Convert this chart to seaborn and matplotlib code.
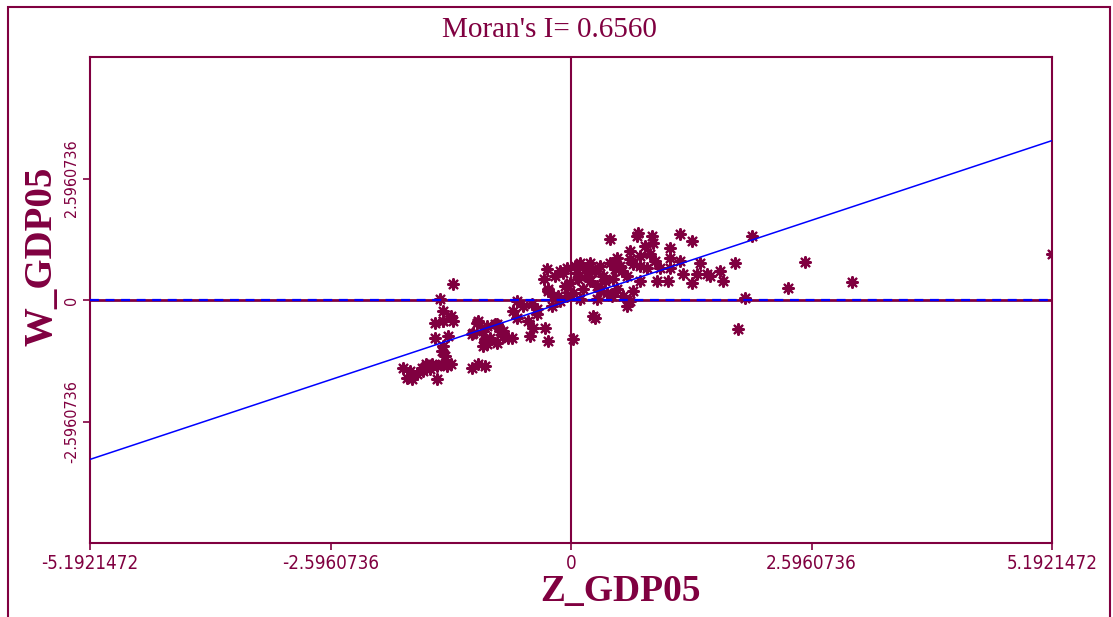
import matplotlib
matplotlib.use("Agg")
import matplotlib.pyplot as plt
from matplotlib import font_manager
from matplotlib.patches import Rectangle
import numpy as np
import pandas as pd
import seaborn as sns

MORANS_I = 0.6560
LIMIT = 5.1921472
TICKS_X = [-5.1921472, -2.5960736, 0, 2.5960736, 5.1921472]
TICK_LABELS_X = ["-5.1921472", "-2.5960736", "0", "2.5960736", "5.1921472"]
TICKS_Y = [-2.5960736, 0, 2.5960736]
TICK_LABELS_Y = ["-2.5960736", "0", "2.5960736"]

# standardised GDP (x) and spatial lag (y)
Z_GDP05 = [
    -1.81, -1.77, -1.72, -1.66, -1.61, -1.56, -1.50, -1.45, -1.39, -1.34, -1.45, -1.74, -1.60, -1.52,
    -1.41, -1.38, -1.47, -1.47, -1.29, -1.27, -1.33, -1.38, -1.39, -1.36, -1.29, -1.27, -1.38,
    -1.07, -1.00, -0.91, -0.93, -0.91, -0.80, -0.80, -0.73, -0.68, -1.07, -1.00, -0.93,
    -0.26, -0.04, -0.25, -0.19, -0.12, -0.42, -0.37, -0.63, -0.58, -0.46, -0.41, -0.28, -0.44, -0.25,
    0.02, -1.02, -0.95, -0.93, -0.82, -0.77, -0.64, -0.73, -0.87, -0.95, -1.06,
    0.42, 0.71, -0.09, 0.10, 0.21, 0.31, 0.42, 0.50, 0.53, 0.64, 0.64, -0.01, 0.02, 0.13, 0.28,
    0.39, 0.50, 0.56, 0.24, -0.25, -0.21, -0.37, -0.14, 0.06, 0.17, 0.35, 0.45, 0.60, 0.10, -0.04,
    0.28, 0.60,
    0.72, 0.87, 0.89, 1.18, 1.31, 1.07, 0.75, 0.85, 1.07, 1.18, 0.96, 0.82, 0.67, 1.07, 1.05, 1.21,
    1.36, 1.31, 1.39, 1.47, 1.61, 1.64, 1.77, 0.67, 0.64, 0.55, 0.93, 0.75,
    1.95, 1.50, 2.53, 2.34, 3.03, 1.88, 1.80, 5.19, 0.26,
    -0.12, -0.17, -0.06, 0.04, 0.15, 0.26, 0.37, 0.48, 0.21, 0.31, 0.08, 0.44, 0.75, 0.91, 0.80,
    -0.29, -0.58, -0.52, -1.38,
]
W_GDP05 = [
    -1.46, -1.67, -1.69, -1.58, -1.46, -1.37, -1.37, -1.41, -1.37, -1.41, -1.69, -1.52, -1.52, -1.48,
    0.02, -0.24, -0.49, -0.81, -0.34, -0.45, -0.77, -0.99, -1.09, -1.20, -1.37, 0.34, -0.45,
    -0.73, -0.45, -0.56, -0.84, -0.94, -0.51, -0.92, -0.66, -0.81, -1.46, -1.37, -1.41,
    0.66, 0.69, 0.19, 0.09, -0.02, -0.09, -0.30, -0.24, -0.39, -0.45, -0.60, -0.60, -0.77, -0.88,
    -0.84, -0.49, -0.66, -0.88, -0.51, -0.66, -0.81, -0.77, -0.81, -0.99, -0.71,
    1.31, 1.37, 0.58, 0.79, 0.79, 0.73, 0.79, 0.90, 0.73, 1.05, 0.88, 0.36, 0.15, 0.24, 0.30,
    0.15, 0.24, 0.09, -0.34, 0.24, -0.13, -0.19, 0.09, 0.58, 0.51, 0.51, 0.45, 0.51, 0.02, 0.09,
    0.02, -0.13,
    1.43, 1.37, 1.22, 1.41, 1.26, 1.11, 0.94, 0.99, 0.90, 0.84, 0.69, 0.69, 0.77, 0.69, 0.41, 0.56,
    0.56, 0.36, 0.79, 0.56, 0.62, 0.41, 0.79, 0.19, -0.02, 0.62, 0.41, 0.41,
    1.37, 0.51, 0.81, 0.26, 0.39, 0.04, -0.62, 0.98, -0.39,
    0.62, 0.51, 0.30, 0.73, 0.66, 0.62, 0.41, 0.66, 0.41, 0.19, 0.45, 0.09, 0.73, 0.84, 1.16,
    0.45, -0.02, -0.13, -0.45,
]

MAROON = "#800040"
BLUE = "#0000ff"


def pick_font(preferred, fallback):
    names = {f.name for f in font_manager.fontManager.ttflist}
    return preferred if preferred in names else fallback


def main() -> None:
    df = pd.DataFrame({"Z_GDP05": Z_GDP05, "W_GDP05": W_GDP05})

    sns.set_theme(style="white")
    plt.rcParams["font.family"] = ["DejaVu Sans"]
    serif = pick_font("Liberation Serif", "DejaVu Serif")
    narrow = pick_font("Liberation Sans Narrow", "DejaVu Sans")

    fig = plt.figure(figsize=(11.13, 6.17), dpi=100)
    ax = fig.add_axes([90 / 1113, 1 - 543 / 617, 962 / 1113, 486 / 617])

    sns.scatterplot(data=df, x="Z_GDP05", y="W_GDP05", ax=ax, marker=(8, 2, 0),
                    s=60, color=MAROON, edgecolor=MAROON, linewidth=1.6, zorder=2)

    # quadrant axes and regression line
    ax.axvline(0, color=MAROON, lw=1.5, zorder=1)
    ax.axhline(0, color=MAROON, lw=2, zorder=3)
    ax.axhline(0, color=BLUE, lw=1.6, ls=(0, (4, 3)), zorder=3)
    ax.axline((0, 0), slope=MORANS_I, color=BLUE, lw=1.1, zorder=3)

    ax.set_xlim(-LIMIT, LIMIT)
    ax.set_ylim(-LIMIT, LIMIT)
    ax.set_xticks(TICKS_X)
    ax.set_xticklabels(TICK_LABELS_X, fontfamily=narrow, fontsize=13.5,
                       fontstretch="condensed", color=MAROON)
    ax.set_yticks(TICKS_Y)
    ax.set_yticklabels(TICK_LABELS_Y, fontfamily=narrow, fontsize=11.5,
                       fontstretch="condensed", color=MAROON, rotation=90, va="center")
    ax.tick_params(axis="both", direction="out", length=5, width=1.2, color=MAROON,
                   bottom=True, left=True, pad=3)
    ax.set_xlabel("")
    ax.set_ylabel("")
    for sp in ax.spines.values():
        sp.set_color(MAROON)
        sp.set_linewidth(1.5)

    fig.text(549 / 1113, 1 - 30 / 617, "Moran's I= 0.6560", ha="center", va="center",
             fontfamily=serif, fontsize=21, color=MAROON)
    fig.text(620 / 1113, 1 - 591 / 617, "Z_GDP05", ha="center", va="center",
             fontfamily=serif, fontsize=27, fontweight="bold", color=MAROON)
    fig.text(42 / 1113, 1 - 256 / 617, "W_GDP05", ha="center", va="center", rotation=90,
             fontfamily=serif, fontsize=28, fontweight="bold", color=MAROON)

    # outer frame of the chart window
    fig.add_artist(Rectangle((8 / 1113, -0.01), 1102 / 1113, 1 - 7 / 617 + 0.01,
                             transform=fig.transFigure, fill=False, edgecolor=MAROON, lw=1.5))

    fig.savefig("out.png", dpi=100)
    plt.close(fig)


if __name__ == "__main__":
    main()
